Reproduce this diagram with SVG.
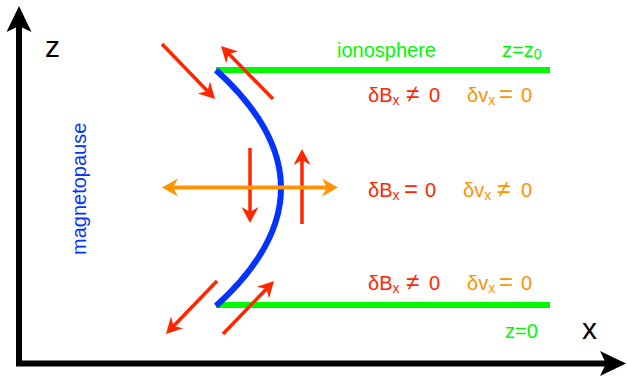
<svg xmlns="http://www.w3.org/2000/svg" width="627" height="381" viewBox="0 0 627 381">
<style>
  text { font-family: "Liberation Sans", Arial, sans-serif; font-size: 20px; }
  .red { fill: #FF2600; }
  .orange { fill: #FF9300; }
  .green { fill: #00F900; }
  .blue { fill: #0433FF; }
  .axislbl { fill: #000; font-size: 30px; }
  .op { font-size: 24px; }
  .redarrow { stroke: #FF2600; stroke-width: 3.5; fill: none; marker-end: url(#redHead); }
  .orangearrow { stroke: #FF9300; stroke-width: 4; fill: none; marker-start: url(#orangeHead); marker-end: url(#orangeHead); }
  .axis { stroke: #000; stroke-width: 6; fill: none; stroke-linejoin: miter; marker-start: url(#axisHead); marker-end: url(#axisHead); }
  .layer { stroke: #00F900; stroke-width: 6; fill: none; }
  .mp { stroke: #0433FF; stroke-width: 6; fill: none; }
</style>
<defs>
  <marker id="redHead" markerUnits="userSpaceOnUse" viewBox="0 -10 17 20" refX="6" refY="0" markerWidth="17" markerHeight="20" orient="auto">
    <path d="M16,0 L0,-8.5 L5,0 L0,8.5 Z" fill="#FF2600"/>
  </marker>
  <marker id="orangeHead" markerUnits="userSpaceOnUse" viewBox="0 -10 17 20" refX="6" refY="0" markerWidth="17" markerHeight="20" orient="auto-start-reverse">
    <path d="M16,0 L0,-9 L5,0 L0,9 Z" fill="#FF9300"/>
  </marker>
  <marker id="axisHead" markerUnits="userSpaceOnUse" viewBox="0 -14 27 28" refX="10" refY="0" markerWidth="27" markerHeight="28" orient="auto-start-reverse">
    <path d="M26,0 L0,-12.5 L6,0 L0,12.5 Z" fill="#000"/>
  </marker>
</defs>

<g id="axes">
  <path class="axis" d="M19,22 L19,363.5 L610,363.5"/>
  <text class="axislbl" x="45" y="57">z</text>
  <text class="axislbl" x="582" y="339">x</text>
</g>

<g id="ionosphere">
  <line class="layer" x1="216" y1="70" x2="550" y2="70"/>
  <text class="green" x="337" y="57">ionosphere</text>
  <text class="green" x="502" y="57">z=z<tspan font-size="14" dy="2">0</tspan></text>
</g>

<g id="ground">
  <line class="layer" x1="216" y1="305" x2="550" y2="305"/>
  <text class="green" x="505" y="338">z=0</text>
</g>

<g id="magnetopause">
  <path class="mp" d="M216,70 Q346,188 216,306"/>
  <text class="blue" transform="translate(86,255) rotate(-90)" x="0" y="0">magnetopause</text>
</g>

<g id="labels">
  <text class="red" x="368" y="102">δB<tspan font-size="14" dy="3">x</tspan><tspan class="op" x="406" dy="-3">≠</tspan><tspan x="429">0</tspan></text>
  <text class="orange" x="467" y="102">δv<tspan font-size="14" dy="3">x</tspan><tspan class="op" x="499" dy="-3">=</tspan><tspan x="521">0</tspan></text>
  <text class="red" x="368" y="197">δB<tspan font-size="14" dy="3">x</tspan><tspan class="op" x="404" dy="-3">=</tspan><tspan x="425">0</tspan></text>
  <text class="orange" x="463" y="197">δv<tspan font-size="14" dy="3">x</tspan><tspan class="op" x="497" dy="-3">≠</tspan><tspan x="521">0</tspan></text>
  <text class="red" x="368" y="290">δB<tspan font-size="14" dy="3">x</tspan><tspan class="op" x="406" dy="-3">≠</tspan><tspan x="429">0</tspan></text>
  <text class="orange" x="467" y="290">δv<tspan font-size="14" dy="3">x</tspan><tspan class="op" x="499" dy="-3">=</tspan><tspan x="521">0</tspan></text>
</g>

<g id="connectors">
  <line class="redarrow" x1="162" y1="44" x2="208.1" y2="91.8"/>
  <line class="redarrow" x1="273" y1="99" x2="228" y2="53.1"/>
  <line class="redarrow" x1="250" y1="148" x2="250" y2="213"/>
  <line class="redarrow" x1="302" y1="224" x2="302" y2="159"/>
  <line class="redarrow" x1="217" y1="281" x2="172.9" y2="326.8"/>
  <line class="redarrow" x1="223" y1="334" x2="267.1" y2="288.2"/>
  <line class="orangearrow" x1="172" y1="187.5" x2="328" y2="187.5"/>
</g>
</svg>
